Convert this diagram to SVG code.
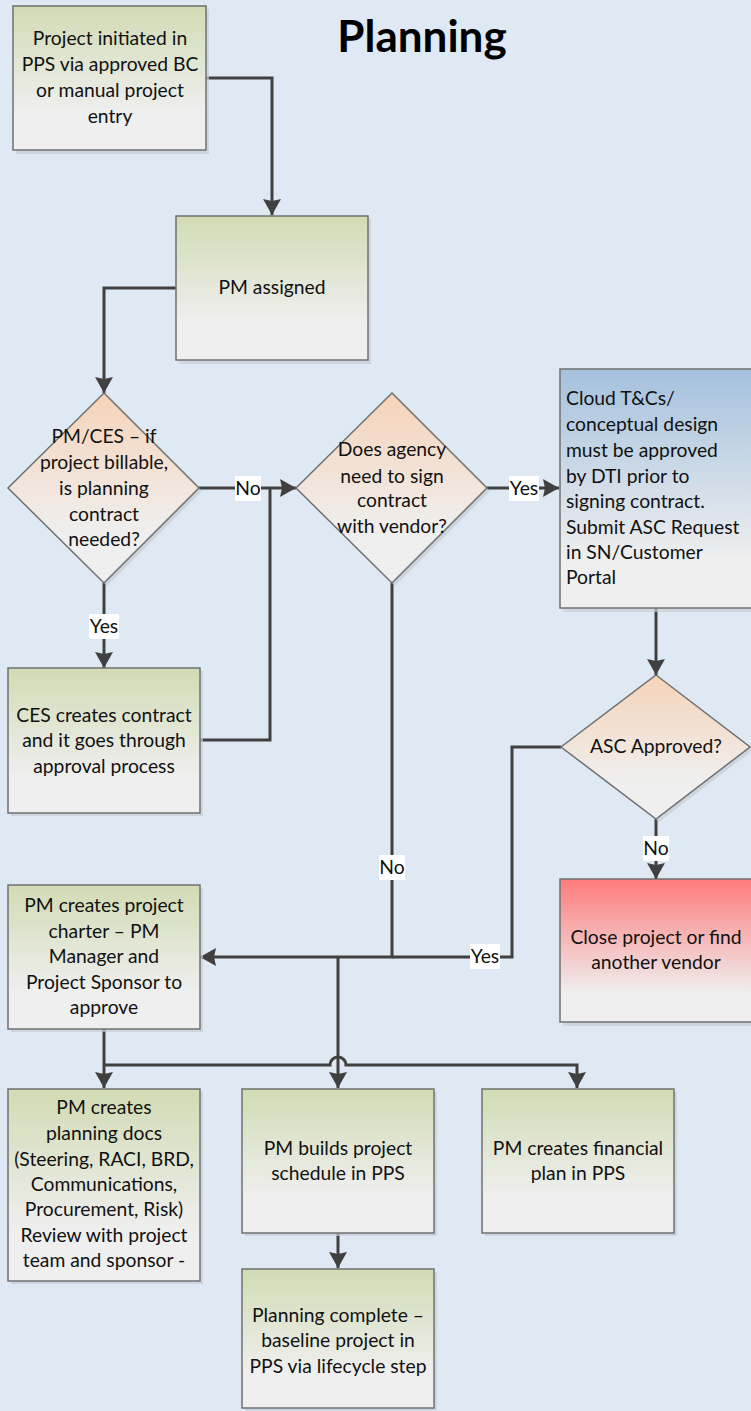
<svg xmlns="http://www.w3.org/2000/svg" width="751" height="1411" viewBox="0 0 751 1411">
<defs>
<linearGradient id="gGreen" x1="0" y1="0" x2="0" y2="1"><stop offset="0" stop-color="#d2dbb4"/><stop offset="0.75" stop-color="#efefef"/><stop offset="1" stop-color="#efefef"/></linearGradient>
<linearGradient id="gOrange" x1="0" y1="0" x2="0" y2="1"><stop offset="0" stop-color="#f6d3b8"/><stop offset="0.75" stop-color="#efefef"/><stop offset="1" stop-color="#efefef"/></linearGradient>
<linearGradient id="gBlue" x1="0" y1="0" x2="0" y2="1"><stop offset="0" stop-color="#a4c1de"/><stop offset="0.8" stop-color="#efefef"/><stop offset="1" stop-color="#efefef"/></linearGradient>
<linearGradient id="gRed" x1="0" y1="0" x2="0" y2="1"><stop offset="0" stop-color="#ff7b7b"/><stop offset="0.8" stop-color="#efefef"/><stop offset="1" stop-color="#efefef"/></linearGradient>
<marker id="arr" markerUnits="userSpaceOnUse" markerWidth="18" markerHeight="18" refX="16" refY="9" orient="auto" viewBox="0 0 18 18"><path d="M0,0 L16,9 L0,18 L2,9 z" fill="#404040"/></marker>
</defs>
<style>
.bg{fill:#dfe9f3}
.shadow{fill:#c5ccd4;opacity:0.7}
.box{stroke:#707070;stroke-width:1.5}
.g{fill:url(#gGreen)}
.o{fill:url(#gOrange)}
.b{fill:url(#gBlue)}
.r{fill:url(#gRed)}
text{font-family:Lato,"Liberation Sans",sans-serif;font-size:19.3px;fill:#111}
.c{text-anchor:middle}
.title{font-size:44px;font-weight:bold;fill:#000}
.conn{fill:none;stroke:#404040;stroke-width:3}
.lbl{fill:#ffffff}
</style>
<rect class="bg" x="0" y="0" width="751" height="1411"/>
<text class="title c" x="422" y="52">Planning</text>

<g id="connectors">
<path class="conn" d="M206,78 H272 V215" marker-end="url(#arr)"/>
<path class="conn" d="M176,288 H104 V393" marker-end="url(#arr)"/>
<path class="conn" d="M199,488 H296" marker-end="url(#arr)"/>
<path class="conn" d="M200,740 H270 V488"/>
<path class="conn" d="M104,583 V668" marker-end="url(#arr)"/>
<path class="conn" d="M487,488 H559" marker-end="url(#arr)"/>
<path class="conn" d="M656,608 V675" marker-end="url(#arr)"/>
<path class="conn" d="M656,819 V879" marker-end="url(#arr)"/>
<path class="conn" d="M561,747 H512 V957 H392"/>
<path class="conn" d="M392,583 V957 H200" marker-end="url(#arr)"/>
<path class="conn" d="M338,957 V1088" marker-end="url(#arr)"/>
<path class="conn" d="M104,1029 V1088" marker-end="url(#arr)"/>
<path class="conn" d="M104,1065 H330 A8,8 0 0 1 346,1065 H577 V1088" marker-end="url(#arr)"/>
<path class="conn" d="M338,1232 V1268" marker-end="url(#arr)"/>
<rect class="lbl" x="235" y="476" width="26" height="25"/><text class="c" x="248" y="495">No</text>
<rect class="lbl" x="89" y="614" width="30" height="25"/><text class="c" x="104" y="633">Yes</text>
<rect class="lbl" x="509" y="476" width="30" height="25"/><text class="c" x="524" y="495">Yes</text>
<rect class="lbl" x="379" y="855" width="26" height="25"/><text class="c" x="392" y="874">No</text>
<rect class="lbl" x="470" y="944" width="30" height="25"/><text class="c" x="485" y="963">Yes</text>
<rect class="lbl" x="643" y="836" width="26" height="25"/><text class="c" x="656" y="855">No</text>
</g>

<g id="n1">
<rect class="shadow" x="16" y="9" width="193" height="145"/>
<rect class="box g" x="13" y="6" width="193" height="144"/>
<text class="c" x="110" y="45">Project initiated in</text>
<text class="c" x="110" y="71">PPS via approved BC</text>
<text class="c" x="110" y="97">or manual project</text>
<text class="c" x="110" y="123">entry</text>
</g>

<g id="n2">
<rect class="shadow" x="179" y="219" width="192" height="145"/>
<rect class="box g" x="176" y="216" width="192" height="144"/>
<text class="c" x="272" y="294">PM assigned</text>
</g>

<g id="d1">
<polygon class="shadow" points="107,396 202,491 107,586 11,491"/>
<polygon class="box o" points="104,393 199,488 104,583 8,488" stroke-width="1"/>
<text class="c" x="104" y="443">PM/CES – if</text>
<text class="c" x="104" y="469">project billable,</text>
<text class="c" x="104" y="495">is planning</text>
<text class="c" x="104" y="521">contract</text>
<text class="c" x="104" y="546">needed?</text>
</g>

<g id="n3">
<rect class="shadow" x="11" y="671" width="192" height="145"/>
<rect class="box g" x="8" y="668" width="192" height="145"/>
<text class="c" x="104" y="722">CES creates contract</text>
<text class="c" x="104" y="747">and it goes through</text>
<text class="c" x="104" y="773">approval process</text>
</g>

<g id="d2">
<polygon class="shadow" points="395,396 490,491 395,586 299,491"/>
<polygon class="box o" points="392,393 487,488 392,583 296,488" stroke-width="1"/>
<text class="c" x="392" y="456">Does agency</text>
<text class="c" x="392" y="483">need to sign</text>
<text class="c" x="392" y="507">contract</text>
<text class="c" x="392" y="533">with vendor?</text>
</g>

<g id="n4">
<rect class="shadow" x="563" y="372" width="200" height="240"/>
<rect class="box b" x="560" y="369" width="200" height="239"/>
<text x="566" y="405">Cloud T&amp;Cs/</text>
<text x="566" y="431">conceptual design</text>
<text x="566" y="457">must be approved</text>
<text x="566" y="483">by DTI prior to</text>
<text x="566" y="508">signing contract.</text>
<text x="566" y="534">Submit ASC Request</text>
<text x="566" y="559">in SN/Customer</text>
<text x="566" y="584">Portal</text>
</g>

<g id="d3">
<polygon class="shadow" points="659,678 753,750 659,822 564,750"/>
<polygon class="box o" points="656,675 750,747 656,819 561,747" stroke-width="1"/>
<text class="c" x="656" y="753">ASC Approved?</text>
</g>

<g id="n5">
<rect class="shadow" x="563" y="882" width="200" height="144"/>
<rect class="box r" x="560" y="879" width="200" height="143"/>
<text class="c" x="656" y="944">Close project or find</text>
<text class="c" x="656" y="969">another vendor</text>
</g>

<g id="n6">
<rect class="shadow" x="11" y="888" width="192" height="144"/>
<rect class="box g" x="8" y="885" width="192" height="144"/>
<text class="c" x="104" y="912">PM creates project</text>
<text class="c" x="104" y="938">charter – PM</text>
<text class="c" x="104" y="963">Manager and</text>
<text class="c" x="104" y="989">Project Sponsor to</text>
<text class="c" x="104" y="1014">approve</text>
</g>

<g id="n7">
<rect class="shadow" x="11" y="1092" width="192" height="192"/>
<rect class="box g" x="8" y="1089" width="192" height="192"/>
<text class="c" x="104" y="1114">PM creates</text>
<text class="c" x="104" y="1140">planning docs</text>
<text class="c" x="104" y="1166">(Steering, RACI, BRD,</text>
<text class="c" x="104" y="1191">Communications,</text>
<text class="c" x="104" y="1216">Procurement, Risk)</text>
<text class="c" x="104" y="1242">Review with project</text>
<text class="c" x="104" y="1267">team and sponsor -</text>
</g>

<g id="n8">
<rect class="shadow" x="245" y="1092" width="192" height="144"/>
<rect class="box g" x="242" y="1089" width="192" height="144"/>
<text class="c" x="338" y="1155">PM builds project</text>
<text class="c" x="338" y="1180">schedule in PPS</text>
</g>

<g id="n9">
<rect class="shadow" x="485" y="1092" width="192" height="144"/>
<rect class="box g" x="482" y="1089" width="192" height="144"/>
<text class="c" x="578" y="1155">PM creates financial</text>
<text class="c" x="578" y="1180">plan in PPS</text>
</g>

<g id="n10">
<rect class="shadow" x="245" y="1272" width="192" height="140"/>
<rect class="box g" x="242" y="1269" width="192" height="139"/>
<text class="c" x="338" y="1322">Planning complete –</text>
<text class="c" x="338" y="1347">baseline project in</text>
<text class="c" x="338" y="1373">PPS via lifecycle step</text>
</g>
</svg>
